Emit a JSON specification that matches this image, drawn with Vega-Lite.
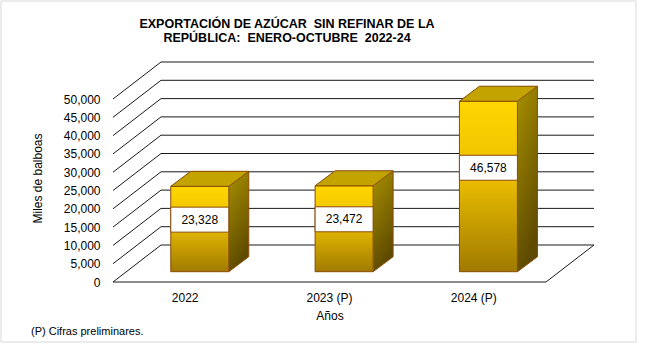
{
  "$schema": "https://vega.github.io/schema/vega-lite/v6.json",
  "width": 433,
  "height": 183,
  "autosize": {"type": "none"},
  "padding": {"left": 113, "top": 99, "right": 112, "bottom": 65},
  "background": "white",
  "config": {
    "view": {"stroke": null},
    "font": "Liberation Sans",
    "text": {"font": "Liberation Sans"},
    "axisY": {
      "grid": false,
      "ticks": false,
      "domain": false,
      "labelPadding": 13,
      "labelFontSize": 12,
      "labelColor": "#000000",
      "labelFont": "Liberation Sans",
      "labelOverlap": false,
      "titleFont": "Liberation Sans",
      "titleFontSize": 12,
      "titleFontWeight": "normal",
      "titleColor": "#000000",
      "titleAngle": 270,
      "titleAlign": "center",
      "titleBaseline": "middle",
      "titleX": -76,
      "titleY": 79
    }
  },
  "title": {
    "text": ["EXPORTACIÓN DE AZÚCAR \u00a0SIN REFINAR DE LA", "REPÚBLICA: \u00a0ENERO-OCTUBRE \u00a02022-24"],
    "font": "Liberation Sans",
    "fontSize": 12.5,
    "fontWeight": "bold",
    "color": "#000000",
    "anchor": "middle",
    "frame": "group",
    "dx": -42.5,
    "dy": 44,
    "lineHeight": 14,
    "offset": 0
  },
  "datasets": {
    "sales": [
      {"year": "2022", "value": 23328},
      {"year": "2023 (P)", "value": 23472},
      {"year": "2024 (P)", "value": 46578}
    ],
    "ticks": [
      {"v": 0}, {"v": 5000}, {"v": 10000}, {"v": 15000}, {"v": 20000}, {"v": 25000},
      {"v": 30000}, {"v": 35000}, {"v": 40000}, {"v": 45000}, {"v": 50000}
    ],
    "note": [{"text": "(P) Cifras preliminares."}]
  },
  "layer": [
    {
      "data": {"name": "ticks"},
      "mark": {"type": "rule", "color": "#1a1a1a", "strokeWidth": 1, "xOffset": 48, "x2Offset": 48, "yOffset": -37},
      "encoding": {
        "x": {"value": 0},
        "x2": {"value": "width"},
        "y": {"field": "v", "type": "quantitative", "scale": {"domain": [0, 50000], "nice": false},
          "axis": {"values": [0, 5000, 10000, 15000, 20000, 25000, 30000, 35000, 40000, 45000, 50000], "labelExpr": "format(datum.value, ',')", "title": "Miles de balboas"}}
      }
    },
    {
      "data": {"name": "ticks"},
      "mark": {"type": "rule", "color": "#1a1a1a", "strokeWidth": 1, "x2Offset": 48, "y2Offset": -37},
      "encoding": {
        "x": {"value": 0},
        "x2": {"value": 0},
        "y": {"field": "v", "type": "quantitative",
          "axis": {"values": [0, 5000, 10000, 15000, 20000, 25000, 30000, 35000, 40000, 45000, 50000], "labelExpr": "format(datum.value, ',')", "title": "Miles de balboas"}},
        "y2": {"field": "v"}
      }
    },
    {
      "data": {"values": [{}]},
      "mark": {"type": "rule", "color": "#1a1a1a", "strokeWidth": 1},
      "encoding": {
        "x": {"value": 0},
        "x2": {"value": "width"},
        "y": {"datum": 0, "type": "quantitative",
          "axis": {"values": [0, 5000, 10000, 15000, 20000, 25000, 30000, 35000, 40000, 45000, 50000], "labelExpr": "format(datum.value, ',')", "title": "Miles de balboas"}}
      }
    },
    {
      "data": {"values": [{}]},
      "mark": {"type": "rule", "color": "#1a1a1a", "strokeWidth": 1, "x2Offset": 48, "y2Offset": -37},
      "encoding": {
        "x": {"value": "width"},
        "x2": {"value": "width"},
        "y": {"datum": 0, "type": "quantitative",
          "axis": {"values": [0, 5000, 10000, 15000, 20000, 25000, 30000, 35000, 40000, 45000, 50000], "labelExpr": "format(datum.value, ',')", "title": "Miles de balboas"}},
        "y2": {"datum": 0}
      }
    },
    {
      "data": {"name": "sales"},
      "mark": {
        "type": "bar",
        "width": 20,
        "xOffset": 53.6,
        "yOffset": -25.3,
        "y2Offset": -10.3,
        "stroke": null,
        "fill": {
          "gradient": "linear",
          "x1": 0, "y1": 0, "x2": 0.3, "y2": 1,
          "stops": [
            {"offset": 0, "color": "#A89000"},
            {"offset": 1, "color": "#5E4A00"}
          ]
        }
      },
      "encoding": {
        "x": {
          "field": "year",
          "type": "nominal",
          "sort": null,
          "scale": {"paddingInner": 0, "paddingOuter": 0},
          "axis": {
            "title": "Años",
            "labelAngle": 0,
            "labelPadding": 10,
            "ticks": false,
            "domain": false,
            "grid": false,
            "labelFontSize": 12,
            "labelColor": "#000000",
            "labelFont": "Liberation Sans",
            "titleFont": "Liberation Sans",
            "titleFontSize": 12,
            "titleFontWeight": "normal",
            "titleColor": "#000000",
            "titleY": 37.5,
            "titleBaseline": "alphabetic"
          }
        },
        "y": {"field": "value", "type": "quantitative",
          "axis": {"values": [0, 5000, 10000, 15000, 20000, 25000, 30000, 35000, 40000, 45000, 50000], "labelExpr": "format(datum.value, ',')", "title": "Miles de balboas"}},
        "y2": {"datum": 0}
      }
    },
    {
      "data": {"name": "sales"},
      "mark": {
        "type": "point",
        "shape": "M0.29,0L0.49,-0.15L0.5,-0.15L0.5,0.01L0.29,0.01Z",
        "size": 40000,
        "filled": true,
        "fill": "#FFFFFF",
        "stroke": null,
        "opacity": 1,
        "xOffset": 14.6,
        "yOffset": -10.3
      },
      "encoding": {
        "x": {"field": "year", "type": "nominal"},
        "y": {"datum": 0, "type": "quantitative",
          "axis": {"values": [0, 5000, 10000, 15000, 20000, 25000, 30000, 35000, 40000, 45000, 50000], "labelExpr": "format(datum.value, ',')", "title": "Miles de balboas"}}
      }
    },
    {
      "data": {"name": "sales"},
      "mark": {
        "type": "point",
        "shape": "M0.29,0L0.49,-0.15",
        "size": 40000,
        "filled": false,
        "stroke": "#8A4B08",
        "strokeWidth": 1,
        "opacity": 1,
        "xOffset": 14.6,
        "yOffset": -10.3
      },
      "encoding": {
        "x": {"field": "year", "type": "nominal"},
        "y": {"datum": 0, "type": "quantitative",
          "axis": {"values": [0, 5000, 10000, 15000, 20000, 25000, 30000, 35000, 40000, 45000, 50000], "labelExpr": "format(datum.value, ',')", "title": "Miles de balboas"}}
      }
    },
    {
      "data": {"name": "sales"},
      "mark": {"type": "rule", "color": "#8A4B08", "strokeWidth": 1, "xOffset": 63.6, "yOffset": -25.3, "y2Offset": -25.3},
      "encoding": {
        "x": {"field": "year", "type": "nominal"},
        "y": {"field": "value", "type": "quantitative",
          "axis": {"values": [0, 5000, 10000, 15000, 20000, 25000, 30000, 35000, 40000, 45000, 50000], "labelExpr": "format(datum.value, ',')", "title": "Miles de balboas"}},
        "y2": {"datum": 0}
      }
    },
    {
      "data": {"name": "sales"},
      "mark": {
        "type": "bar",
        "width": 58,
        "xOffset": 14.6,
        "yOffset": -10.3,
        "y2Offset": -10.3,
        "stroke": "#8A4B08",
        "strokeWidth": 1,
        "fill": {
          "gradient": "linear",
          "x1": 0, "y1": 0, "x2": 0, "y2": 1,
          "stops": [
            {"offset": 0, "color": "#FFD700"},
            {"offset": 0.45, "color": "#EBBE00"},
            {"offset": 1, "color": "#A07A00"}
          ]
        }
      },
      "encoding": {
        "x": {"field": "year", "type": "nominal"},
        "y": {"field": "value", "type": "quantitative",
          "axis": {"values": [0, 5000, 10000, 15000, 20000, 25000, 30000, 35000, 40000, 45000, 50000], "labelExpr": "format(datum.value, ',')", "title": "Miles de balboas"}},
        "y2": {"datum": 0}
      }
    },
    {
      "data": {"name": "sales"},
      "mark": {
        "type": "point",
        "shape": "M-0.29,0L0.29,0L0.49,-0.15L-0.09,-0.15Z",
        "size": 40000,
        "filled": true,
        "fill": "#C2A300",
        "stroke": "#8A4B08",
        "strokeWidth": 1,
        "opacity": 1,
        "xOffset": 14.6,
        "yOffset": -10.3
      },
      "encoding": {
        "x": {"field": "year", "type": "nominal"},
        "y": {"field": "value", "type": "quantitative",
          "axis": {"values": [0, 5000, 10000, 15000, 20000, 25000, 30000, 35000, 40000, 45000, 50000], "labelExpr": "format(datum.value, ',')", "title": "Miles de balboas"}}
      }
    },
    {
      "data": {"name": "sales"},
      "mark": {
        "type": "point",
        "shape": "M-0.29,-0.125L0.29,-0.125L0.29,0.125L-0.29,0.125Z",
        "size": 40000,
        "filled": true,
        "fill": "#FFFFFF",
        "stroke": "#8A4B08",
        "strokeWidth": 1,
        "opacity": 1,
        "xOffset": 14.6,
        "yOffset": {"expr": "-10.3 + datum.value * 71.4 / 50000"}
      },
      "encoding": {
        "x": {"field": "year", "type": "nominal"},
        "y": {"field": "value", "type": "quantitative",
          "axis": {"values": [0, 5000, 10000, 15000, 20000, 25000, 30000, 35000, 40000, 45000, 50000], "labelExpr": "format(datum.value, ',')", "title": "Miles de balboas"}}
      }
    },
    {
      "data": {"name": "sales"},
      "mark": {
        "type": "text",
        "xOffset": 14.6,
        "yOffset": {"expr": "-10.3 + datum.value * 71.4 / 50000"},
        "baseline": "middle",
        "align": "center",
        "fontSize": 12,
        "color": "#000000"
      },
      "encoding": {
        "x": {"field": "year", "type": "nominal"},
        "y": {"field": "value", "type": "quantitative",
          "axis": {"values": [0, 5000, 10000, 15000, 20000, 25000, 30000, 35000, 40000, 45000, 50000], "labelExpr": "format(datum.value, ',')", "title": "Miles de balboas"}},
        "text": {"field": "value", "type": "quantitative", "format": ","}
      }
    },
    {
      "data": {"name": "note"},
      "mark": {"type": "text", "align": "left", "baseline": "alphabetic", "fontSize": 11, "color": "#000000"},
      "encoding": {
        "x": {"value": -82},
        "y": {"value": 236},
        "text": {"field": "text"}
      }
    },
    {
      "data": {"values": [{}]},
      "mark": {"type": "rect", "fill": null, "stroke": "#D9D9D9", "strokeWidth": 1},
      "encoding": {
        "x": {"value": -112},
        "x2": {"value": 523},
        "y": {"value": -98},
        "y2": {"value": 243}
      }
    }
  ]
}
